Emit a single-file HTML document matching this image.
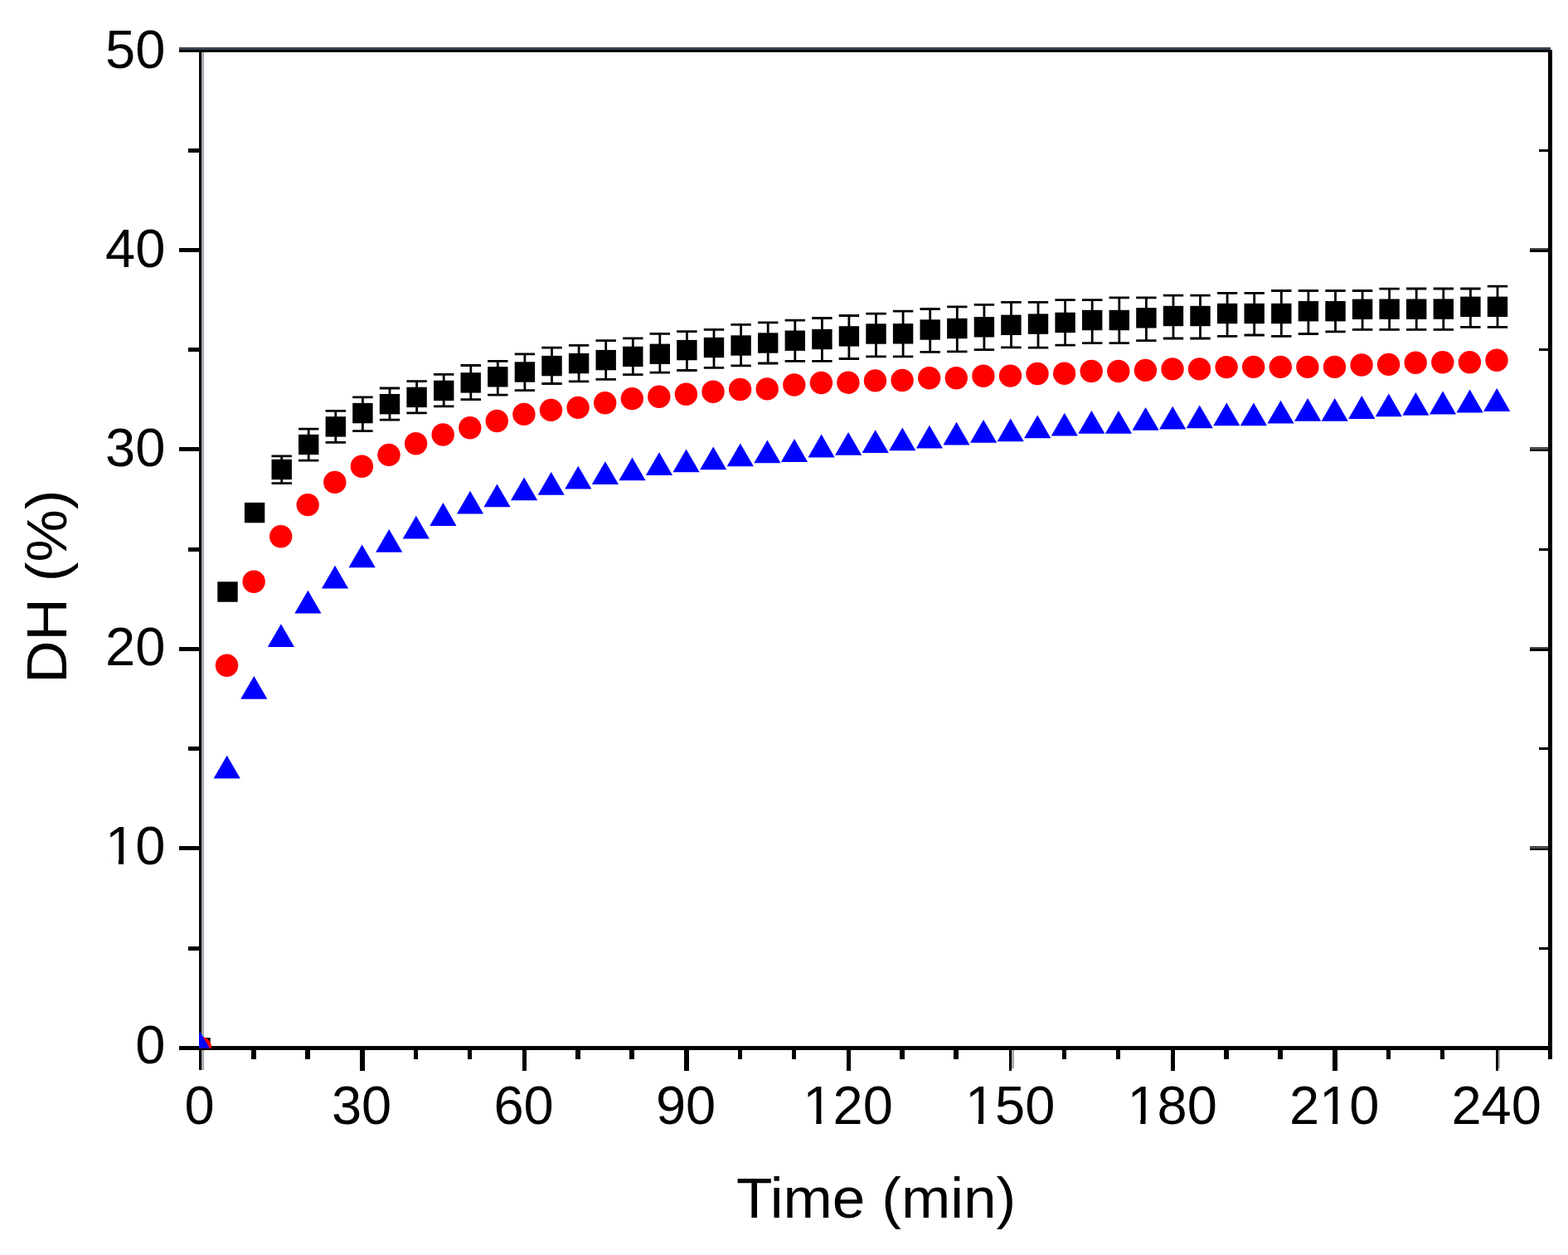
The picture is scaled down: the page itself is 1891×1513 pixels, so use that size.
<!DOCTYPE html>
<html><head><meta charset="utf-8"><title>DH vs Time</title>
<style>
html,body{margin:0;padding:0;background:#fff;}
body{width:1891px;height:1513px;overflow:hidden;}
svg{display:block;}
text{font-family:"Liberation Sans",Arial,sans-serif;fill:#000;}
</style></head>
<body>
<svg width="1891" height="1513" viewBox="0 0 1891 1513">
<defs><clipPath id="plot"><rect x="240" y="57" width="1630" height="1206.8"/></clipPath></defs>
<rect width="1891" height="1513" fill="#fff"/>
<g shape-rendering="crispEdges">
<rect x="240" y="57.2" width="3" height="1233" fill="#000"/>
<rect x="243" y="63" width="2.8" height="1227" fill="#a7abb1"/>
<rect x="215.6" y="57.2" width="1654" height="2.9" fill="#3a4350"/>
<rect x="215.6" y="60.1" width="1656.6" height="2.9" fill="#000"/>
<rect x="1867" y="60.1" width="5.1" height="1216.7" fill="#000"/>
<rect x="215.6" y="1260.6" width="1656.6" height="5.3" fill="#000"/>
<rect x="226.6" y="1140.7" width="13.4" height="5" fill="#000"/>
<rect x="1856" y="1141.8" width="11" height="2.8" fill="#000"/>
<rect x="215.5" y="1020.4" width="24.5" height="5" fill="#000"/>
<rect x="1845" y="1020.3" width="22" height="2.2" fill="#4a4a44"/>
<rect x="1845" y="1022.5" width="22" height="2.9" fill="#000"/>
<rect x="226.6" y="900.2" width="13.4" height="5" fill="#000"/>
<rect x="1856" y="901.3" width="11" height="2.8" fill="#000"/>
<rect x="215.5" y="779.9" width="24.5" height="5" fill="#000"/>
<rect x="1845" y="779.8" width="22" height="2.2" fill="#4a4a44"/>
<rect x="1845" y="782" width="22" height="2.9" fill="#000"/>
<rect x="226.6" y="659.7" width="13.4" height="5" fill="#000"/>
<rect x="1856" y="660.8" width="11" height="2.8" fill="#000"/>
<rect x="215.5" y="539.4" width="24.5" height="5" fill="#000"/>
<rect x="1845" y="539.3" width="22" height="2.2" fill="#4a4a44"/>
<rect x="1845" y="541.5" width="22" height="2.9" fill="#000"/>
<rect x="226.6" y="419.2" width="13.4" height="5" fill="#000"/>
<rect x="1856" y="420.3" width="11" height="2.8" fill="#000"/>
<rect x="215.5" y="298.9" width="24.5" height="5" fill="#000"/>
<rect x="1845" y="298.8" width="22" height="2.2" fill="#4a4a44"/>
<rect x="1845" y="301" width="22" height="2.9" fill="#000"/>
<rect x="226.6" y="178.7" width="13.4" height="5" fill="#000"/>
<rect x="1856" y="179.8" width="11" height="2.8" fill="#000"/>
<rect x="303.2" y="1265" width="5.3" height="11.7" fill="#000"/>
<rect x="368.3" y="1265" width="5.3" height="11.7" fill="#000"/>
<rect x="434.3" y="1265" width="5.3" height="25.6" fill="#000"/>
<rect x="498.7" y="1265" width="5.3" height="11.7" fill="#000"/>
<rect x="563.9" y="1265" width="5.3" height="11.7" fill="#000"/>
<rect x="629.8" y="1265" width="5.3" height="25.6" fill="#000"/>
<rect x="694.2" y="1265" width="5.3" height="11.7" fill="#000"/>
<rect x="759.4" y="1265" width="5.3" height="11.7" fill="#000"/>
<rect x="825.3" y="1265" width="5.3" height="25.6" fill="#000"/>
<rect x="889.7" y="1265" width="5.3" height="11.7" fill="#000"/>
<rect x="954.9" y="1265" width="5.3" height="11.7" fill="#000"/>
<rect x="1020.8" y="1265" width="5.3" height="25.6" fill="#000"/>
<rect x="1085.2" y="1265" width="5.3" height="11.7" fill="#000"/>
<rect x="1150.4" y="1265" width="5.3" height="11.7" fill="#000"/>
<rect x="1217.2" y="1265" width="2.9" height="25.6" fill="#000"/>
<rect x="1220" y="1266" width="2.7" height="21.6" fill="#a7abb1"/>
<rect x="1280.7" y="1265" width="5.3" height="11.7" fill="#000"/>
<rect x="1345.9" y="1265" width="5.3" height="11.7" fill="#000"/>
<rect x="1411.9" y="1265" width="5.3" height="25.6" fill="#000"/>
<rect x="1476.2" y="1265" width="5.3" height="11.7" fill="#000"/>
<rect x="1541.4" y="1265" width="5.3" height="11.7" fill="#000"/>
<rect x="1607.4" y="1265" width="5.3" height="25.6" fill="#000"/>
<rect x="1671.7" y="1265" width="5.3" height="11.7" fill="#000"/>
<rect x="1736.9" y="1265" width="5.3" height="11.7" fill="#000"/>
<rect x="1803.7" y="1265" width="2.9" height="25.6" fill="#000"/>
<rect x="1806.6" y="1266" width="2.7" height="21.6" fill="#a7abb1"/>
</g>
<g>
<g clip-path="url(#plot)">
<rect x="229.3" y="1251.1" width="24.4" height="24.4" fill="#000"/>
<circle cx="241.5" cy="1263.3" r="13.7" fill="#f00"/>
<path d="M241.5 1244.3L257.6 1272.1L225.4 1272.1Z" fill="#00f"/>
</g>
<rect x="262.3" y="701.3" width="24.4" height="24.4" fill="#000"/>
<rect x="294.9" y="605.9" width="24.4" height="24.4" fill="#000"/>
<path d="M339.7 549.9V582.6M327.5 549.9H351.9M327.5 582.6H351.9" stroke="#000" stroke-width="2.8" fill="none"/>
<rect x="327.5" y="553.8" width="24.4" height="24.4" fill="#000"/>
<path d="M372.2 517.1V555.2M360 517.1H384.4M360 555.2H384.4" stroke="#000" stroke-width="2.8" fill="none"/>
<rect x="360" y="523.8" width="24.4" height="24.4" fill="#000"/>
<path d="M404.8 495.3V533.4M392.6 495.3H417M392.6 533.4H417" stroke="#000" stroke-width="2.8" fill="none"/>
<rect x="392.6" y="502.2" width="24.4" height="24.4" fill="#000"/>
<path d="M437.4 478.9V519.7M425.2 478.9H449.6M425.2 519.7H449.6" stroke="#000" stroke-width="2.8" fill="none"/>
<rect x="425.2" y="485.9" width="24.4" height="24.4" fill="#000"/>
<path d="M470 468V506.2M457.8 468H482.2M457.8 506.2H482.2" stroke="#000" stroke-width="2.8" fill="none"/>
<rect x="457.8" y="475" width="24.4" height="24.4" fill="#000"/>
<path d="M502.6 459.7V497.9M490.4 459.7H514.8M490.4 497.9H514.8" stroke="#000" stroke-width="2.8" fill="none"/>
<rect x="490.4" y="466.7" width="24.4" height="24.4" fill="#000"/>
<path d="M535.2 451.3V489.8M523 451.3H547.4M523 489.8H547.4" stroke="#000" stroke-width="2.8" fill="none"/>
<rect x="523" y="458.7" width="24.4" height="24.4" fill="#000"/>
<path d="M567.8 440.5V481.7M555.5 440.5H580M555.5 481.7H580" stroke="#000" stroke-width="2.8" fill="none"/>
<rect x="555.5" y="449.2" width="24.4" height="24.4" fill="#000"/>
<path d="M600.3 435.3V476.2M588.1 435.3H612.5M588.1 476.2H612.5" stroke="#000" stroke-width="2.8" fill="none"/>
<rect x="588.1" y="442.1" width="24.4" height="24.4" fill="#000"/>
<path d="M632.9 426.9V470.6M620.7 426.9H645.1M620.7 470.6H645.1" stroke="#000" stroke-width="2.8" fill="none"/>
<rect x="620.7" y="436.3" width="24.4" height="24.4" fill="#000"/>
<path d="M665.5 419.2V462.5M653.3 419.2H677.7M653.3 462.5H677.7" stroke="#000" stroke-width="2.8" fill="none"/>
<rect x="653.3" y="428.9" width="24.4" height="24.4" fill="#000"/>
<path d="M698.1 416.3V459.9M685.9 416.3H710.3M685.9 459.9H710.3" stroke="#000" stroke-width="2.8" fill="none"/>
<rect x="685.9" y="425.9" width="24.4" height="24.4" fill="#000"/>
<path d="M730.7 410.6V457.3M718.5 410.6H742.9M718.5 457.3H742.9" stroke="#000" stroke-width="2.8" fill="none"/>
<rect x="718.5" y="421.9" width="24.4" height="24.4" fill="#000"/>
<path d="M763.3 407.8V451.7M751.1 407.8H775.5M751.1 451.7H775.5" stroke="#000" stroke-width="2.8" fill="none"/>
<rect x="751.1" y="417.7" width="24.4" height="24.4" fill="#000"/>
<path d="M795.8 402.4V449.1M783.6 402.4H808M783.6 449.1H808" stroke="#000" stroke-width="2.8" fill="none"/>
<rect x="783.6" y="414.6" width="24.4" height="24.4" fill="#000"/>
<path d="M828.4 399.7V446.5M816.2 399.7H840.6M816.2 446.5H840.6" stroke="#000" stroke-width="2.8" fill="none"/>
<rect x="816.2" y="409.9" width="24.4" height="24.4" fill="#000"/>
<path d="M861 397.3V443.3M848.8 397.3H873.2M848.8 443.3H873.2" stroke="#000" stroke-width="2.8" fill="none"/>
<rect x="848.8" y="406.8" width="24.4" height="24.4" fill="#000"/>
<path d="M893.6 391.4V440.9M881.4 391.4H905.8M881.4 440.9H905.8" stroke="#000" stroke-width="2.8" fill="none"/>
<rect x="881.4" y="404.3" width="24.4" height="24.4" fill="#000"/>
<path d="M926.2 388.9V438M914 388.9H938.4M914 438H938.4" stroke="#000" stroke-width="2.8" fill="none"/>
<rect x="914" y="401.3" width="24.4" height="24.4" fill="#000"/>
<path d="M958.8 386.2V435.3M946.6 386.2H971M946.6 435.3H971" stroke="#000" stroke-width="2.8" fill="none"/>
<rect x="946.6" y="398.5" width="24.4" height="24.4" fill="#000"/>
<path d="M991.4 383.5V435.3M979.2 383.5H1003.6M979.2 435.3H1003.6" stroke="#000" stroke-width="2.8" fill="none"/>
<rect x="979.2" y="396.8" width="24.4" height="24.4" fill="#000"/>
<path d="M1023.9 380.5V432.5M1011.7 380.5H1036.1M1011.7 432.5H1036.1" stroke="#000" stroke-width="2.8" fill="none"/>
<rect x="1011.7" y="393.2" width="24.4" height="24.4" fill="#000"/>
<path d="M1056.5 378.1V429.9M1044.3 378.1H1068.7M1044.3 429.9H1068.7" stroke="#000" stroke-width="2.8" fill="none"/>
<rect x="1044.3" y="390.3" width="24.4" height="24.4" fill="#000"/>
<path d="M1089.1 375.2V429.9M1076.9 375.2H1101.3M1076.9 429.9H1101.3" stroke="#000" stroke-width="2.8" fill="none"/>
<rect x="1076.9" y="390.1" width="24.4" height="24.4" fill="#000"/>
<path d="M1121.7 372.5V424.4M1109.5 372.5H1133.9M1109.5 424.4H1133.9" stroke="#000" stroke-width="2.8" fill="none"/>
<rect x="1109.5" y="385.3" width="24.4" height="24.4" fill="#000"/>
<path d="M1154.3 369.8V423.8M1142.1 369.8H1166.5M1142.1 423.8H1166.5" stroke="#000" stroke-width="2.8" fill="none"/>
<rect x="1142.1" y="383.8" width="24.4" height="24.4" fill="#000"/>
<path d="M1186.9 367.3V421.7M1174.7 367.3H1199.1M1174.7 421.7H1199.1" stroke="#000" stroke-width="2.8" fill="none"/>
<rect x="1174.7" y="382.1" width="24.4" height="24.4" fill="#000"/>
<path d="M1219.5 364.3V418.8M1207.2 364.3H1231.7M1207.2 418.8H1231.7" stroke="#000" stroke-width="2.8" fill="none"/>
<rect x="1207.2" y="379.6" width="24.4" height="24.4" fill="#000"/>
<path d="M1252 364.4V419.1M1239.8 364.4H1264.2M1239.8 419.1H1264.2" stroke="#000" stroke-width="2.8" fill="none"/>
<rect x="1239.8" y="378.4" width="24.4" height="24.4" fill="#000"/>
<path d="M1284.6 361.6V416.1M1272.4 361.6H1296.8M1272.4 416.1H1296.8" stroke="#000" stroke-width="2.8" fill="none"/>
<rect x="1272.4" y="376.7" width="24.4" height="24.4" fill="#000"/>
<path d="M1317.2 361.6V413.6M1305 361.6H1329.4M1305 413.6H1329.4" stroke="#000" stroke-width="2.8" fill="none"/>
<rect x="1305" y="373.8" width="24.4" height="24.4" fill="#000"/>
<path d="M1349.8 358.9V413.6M1337.6 358.9H1362M1337.6 413.6H1362" stroke="#000" stroke-width="2.8" fill="none"/>
<rect x="1337.6" y="373.8" width="24.4" height="24.4" fill="#000"/>
<path d="M1382.4 358.9V410.7M1370.2 358.9H1394.6M1370.2 410.7H1394.6" stroke="#000" stroke-width="2.8" fill="none"/>
<rect x="1370.2" y="371.1" width="24.4" height="24.4" fill="#000"/>
<path d="M1415 356.2V408M1402.8 356.2H1427.2M1402.8 408H1427.2" stroke="#000" stroke-width="2.8" fill="none"/>
<rect x="1402.8" y="368.8" width="24.4" height="24.4" fill="#000"/>
<path d="M1447.5 356.2V408M1435.3 356.2H1459.7M1435.3 408H1459.7" stroke="#000" stroke-width="2.8" fill="none"/>
<rect x="1435.3" y="368.8" width="24.4" height="24.4" fill="#000"/>
<path d="M1480.1 353.3V405.3M1467.9 353.3H1492.3M1467.9 405.3H1492.3" stroke="#000" stroke-width="2.8" fill="none"/>
<rect x="1467.9" y="365.8" width="24.4" height="24.4" fill="#000"/>
<path d="M1512.7 353.3V404M1500.5 353.3H1524.9M1500.5 404H1524.9" stroke="#000" stroke-width="2.8" fill="none"/>
<rect x="1500.5" y="365.8" width="24.4" height="24.4" fill="#000"/>
<path d="M1545.3 350.5V405.3M1533.1 350.5H1557.5M1533.1 405.3H1557.5" stroke="#000" stroke-width="2.8" fill="none"/>
<rect x="1533.1" y="365.8" width="24.4" height="24.4" fill="#000"/>
<path d="M1577.9 350.5V402.5M1565.7 350.5H1590.1M1565.7 402.5H1590.1" stroke="#000" stroke-width="2.8" fill="none"/>
<rect x="1565.7" y="363" width="24.4" height="24.4" fill="#000"/>
<path d="M1610.5 350.5V399.8M1598.3 350.5H1622.7M1598.3 399.8H1622.7" stroke="#000" stroke-width="2.8" fill="none"/>
<rect x="1598.3" y="363" width="24.4" height="24.4" fill="#000"/>
<path d="M1643.1 350.5V397.3M1630.9 350.5H1655.3M1630.9 397.3H1655.3" stroke="#000" stroke-width="2.8" fill="none"/>
<rect x="1630.9" y="360.6" width="24.4" height="24.4" fill="#000"/>
<path d="M1675.6 348.1V397.3M1663.4 348.1H1687.8M1663.4 397.3H1687.8" stroke="#000" stroke-width="2.8" fill="none"/>
<rect x="1663.4" y="360.5" width="24.4" height="24.4" fill="#000"/>
<path d="M1708.2 348V397.3M1696 348H1720.4M1696 397.3H1720.4" stroke="#000" stroke-width="2.8" fill="none"/>
<rect x="1696" y="360.5" width="24.4" height="24.4" fill="#000"/>
<path d="M1740.8 348V397.3M1728.6 348H1753M1728.6 397.3H1753" stroke="#000" stroke-width="2.8" fill="none"/>
<rect x="1728.6" y="360.4" width="24.4" height="24.4" fill="#000"/>
<path d="M1773.4 348V394.4M1761.2 348H1785.6M1761.2 394.4H1785.6" stroke="#000" stroke-width="2.8" fill="none"/>
<rect x="1761.2" y="357.6" width="24.4" height="24.4" fill="#000"/>
<path d="M1806 345.1V394.4M1793.8 345.1H1818.2M1793.8 394.4H1818.2" stroke="#000" stroke-width="2.8" fill="none"/>
<rect x="1793.8" y="357.6" width="24.4" height="24.4" fill="#000"/>
<circle cx="273.5" cy="802.3" r="13.7" fill="#f00"/>
<circle cx="306.1" cy="701.2" r="13.7" fill="#f00"/>
<circle cx="338.7" cy="646.7" r="13.7" fill="#f00"/>
<circle cx="371.2" cy="608.6" r="13.7" fill="#f00"/>
<circle cx="403.8" cy="581.4" r="13.7" fill="#f00"/>
<circle cx="436.4" cy="562.2" r="13.7" fill="#f00"/>
<circle cx="469" cy="548.4" r="13.7" fill="#f00"/>
<circle cx="501.6" cy="534.8" r="13.7" fill="#f00"/>
<circle cx="534.2" cy="524" r="13.7" fill="#f00"/>
<circle cx="566.8" cy="515.8" r="13.7" fill="#f00"/>
<circle cx="599.3" cy="507.5" r="13.7" fill="#f00"/>
<circle cx="631.9" cy="499.4" r="13.7" fill="#f00"/>
<circle cx="664.5" cy="494.4" r="13.7" fill="#f00"/>
<circle cx="697.1" cy="491.4" r="13.7" fill="#f00"/>
<circle cx="729.7" cy="485.7" r="13.7" fill="#f00"/>
<circle cx="762.3" cy="480.6" r="13.7" fill="#f00"/>
<circle cx="794.8" cy="478.2" r="13.7" fill="#f00"/>
<circle cx="827.4" cy="475.2" r="13.7" fill="#f00"/>
<circle cx="860" cy="472.2" r="13.7" fill="#f00"/>
<circle cx="892.6" cy="469.5" r="13.7" fill="#f00"/>
<circle cx="925.2" cy="468.9" r="13.7" fill="#f00"/>
<circle cx="957.8" cy="464" r="13.7" fill="#f00"/>
<circle cx="990.4" cy="461.5" r="13.7" fill="#f00"/>
<circle cx="1022.9" cy="461.2" r="13.7" fill="#f00"/>
<circle cx="1055.5" cy="458.9" r="13.7" fill="#f00"/>
<circle cx="1088.1" cy="458.5" r="13.7" fill="#f00"/>
<circle cx="1120.7" cy="455.8" r="13.7" fill="#f00"/>
<circle cx="1153.3" cy="455.8" r="13.7" fill="#f00"/>
<circle cx="1185.9" cy="453.3" r="13.7" fill="#f00"/>
<circle cx="1218.5" cy="453.1" r="13.7" fill="#f00"/>
<circle cx="1251" cy="450.5" r="13.7" fill="#f00"/>
<circle cx="1283.6" cy="450.3" r="13.7" fill="#f00"/>
<circle cx="1316.2" cy="447.5" r="13.7" fill="#f00"/>
<circle cx="1348.8" cy="447.5" r="13.7" fill="#f00"/>
<circle cx="1381.4" cy="446.4" r="13.7" fill="#f00"/>
<circle cx="1414" cy="444.9" r="13.7" fill="#f00"/>
<circle cx="1446.5" cy="444.9" r="13.7" fill="#f00"/>
<circle cx="1479.1" cy="442.6" r="13.7" fill="#f00"/>
<circle cx="1511.7" cy="442.4" r="13.7" fill="#f00"/>
<circle cx="1544.3" cy="442.4" r="13.7" fill="#f00"/>
<circle cx="1576.9" cy="442.4" r="13.7" fill="#f00"/>
<circle cx="1609.5" cy="442.4" r="13.7" fill="#f00"/>
<circle cx="1642.1" cy="440" r="13.7" fill="#f00"/>
<circle cx="1674.6" cy="439.4" r="13.7" fill="#f00"/>
<circle cx="1707.2" cy="437.2" r="13.7" fill="#f00"/>
<circle cx="1739.8" cy="436.7" r="13.7" fill="#f00"/>
<circle cx="1772.4" cy="436.7" r="13.7" fill="#f00"/>
<circle cx="1805" cy="434.3" r="13.7" fill="#f00"/>
<path d="M273.7 910.8L289.8 938.6L257.6 938.6Z" fill="#00f"/>
<path d="M306.3 815L322.4 842.8L290.2 842.8Z" fill="#00f"/>
<path d="M338.9 752.2L355 780L322.8 780Z" fill="#00f"/>
<path d="M371.4 711.7L387.5 739.5L355.3 739.5Z" fill="#00f"/>
<path d="M404 681.7L420.1 709.5L387.9 709.5Z" fill="#00f"/>
<path d="M436.6 656.4L452.7 684.2L420.5 684.2Z" fill="#00f"/>
<path d="M469.2 638L485.3 665.8L453.1 665.8Z" fill="#00f"/>
<path d="M501.8 621.7L517.9 649.5L485.7 649.5Z" fill="#00f"/>
<path d="M534.4 606.1L550.5 633.9L518.3 633.9Z" fill="#00f"/>
<path d="M567 591.8L583.1 619.6L550.9 619.6Z" fill="#00f"/>
<path d="M599.5 583.5L615.6 611.3L583.4 611.3Z" fill="#00f"/>
<path d="M632.1 575.5L648.2 603.3L616 603.3Z" fill="#00f"/>
<path d="M664.7 568.9L680.8 596.7L648.6 596.7Z" fill="#00f"/>
<path d="M697.3 561.8L713.4 589.6L681.2 589.6Z" fill="#00f"/>
<path d="M729.9 556.3L746 584.1L713.8 584.1Z" fill="#00f"/>
<path d="M762.5 551.4L778.6 579.2L746.4 579.2Z" fill="#00f"/>
<path d="M795 545.3L811.1 573.1L778.9 573.1Z" fill="#00f"/>
<path d="M827.6 541.4L843.7 569.2L811.5 569.2Z" fill="#00f"/>
<path d="M860.2 538.4L876.3 566.2L844.1 566.2Z" fill="#00f"/>
<path d="M892.8 534.5L908.9 562.3L876.7 562.3Z" fill="#00f"/>
<path d="M925.4 530.4L941.5 558.2L909.3 558.2Z" fill="#00f"/>
<path d="M958 529.1L974.1 556.9L941.9 556.9Z" fill="#00f"/>
<path d="M990.6 523.6L1006.7 551.4L974.5 551.4Z" fill="#00f"/>
<path d="M1023.1 520.9L1039.2 548.7L1007 548.7Z" fill="#00f"/>
<path d="M1055.7 518.2L1071.8 546L1039.6 546Z" fill="#00f"/>
<path d="M1088.3 515.4L1104.4 543.2L1072.2 543.2Z" fill="#00f"/>
<path d="M1120.9 512.7L1137 540.5L1104.8 540.5Z" fill="#00f"/>
<path d="M1153.5 508.7L1169.6 536.5L1137.4 536.5Z" fill="#00f"/>
<path d="M1186.1 505.9L1202.2 533.7L1170 533.7Z" fill="#00f"/>
<path d="M1218.7 504.4L1234.8 532.2L1202.6 532.2Z" fill="#00f"/>
<path d="M1251.2 500.4L1267.3 528.2L1235.1 528.2Z" fill="#00f"/>
<path d="M1283.8 497.8L1299.9 525.6L1267.7 525.6Z" fill="#00f"/>
<path d="M1316.4 495L1332.5 522.8L1300.3 522.8Z" fill="#00f"/>
<path d="M1349 495L1365.1 522.8L1332.9 522.8Z" fill="#00f"/>
<path d="M1381.6 490.9L1397.7 518.7L1365.5 518.7Z" fill="#00f"/>
<path d="M1414.2 489.7L1430.3 517.5L1398.1 517.5Z" fill="#00f"/>
<path d="M1446.7 488.4L1462.8 516.2L1430.6 516.2Z" fill="#00f"/>
<path d="M1479.3 485.4L1495.4 513.2L1463.2 513.2Z" fill="#00f"/>
<path d="M1511.9 485.4L1528 513.2L1495.8 513.2Z" fill="#00f"/>
<path d="M1544.5 482.7L1560.6 510.5L1528.4 510.5Z" fill="#00f"/>
<path d="M1577.1 480L1593.2 507.8L1561 507.8Z" fill="#00f"/>
<path d="M1609.7 480L1625.8 507.8L1593.6 507.8Z" fill="#00f"/>
<path d="M1642.3 477.1L1658.4 504.9L1626.2 504.9Z" fill="#00f"/>
<path d="M1674.8 474.4L1690.9 502.2L1658.7 502.2Z" fill="#00f"/>
<path d="M1707.4 472.9L1723.5 500.7L1691.3 500.7Z" fill="#00f"/>
<path d="M1740 471.6L1756.1 499.4L1723.9 499.4Z" fill="#00f"/>
<path d="M1772.6 469.6L1788.7 497.4L1756.5 497.4Z" fill="#00f"/>
<path d="M1805.2 468.1L1821.3 495.9L1789.1 495.9Z" fill="#00f"/>
</g>
<g font-size="65">
<text x="199.3" y="1281.9" text-anchor="end">0</text>
<text x="199.3" y="1041.8" text-anchor="end">10</text>
<text x="199.3" y="801.7" text-anchor="end">20</text>
<text x="199.3" y="561.7" text-anchor="end">30</text>
<text x="199.3" y="321.6" text-anchor="end">40</text>
<text x="199.3" y="81.5" text-anchor="end">50</text>
<text x="240.6" y="1355.3" text-anchor="middle">0</text>
<text x="436.1" y="1355.3" text-anchor="middle">30</text>
<text x="631.6" y="1355.3" text-anchor="middle">60</text>
<text x="827.1" y="1355.3" text-anchor="middle">90</text>
<text x="1022.6" y="1355.3" text-anchor="middle">120</text>
<text x="1218.2" y="1355.3" text-anchor="middle">150</text>
<text x="1413.7" y="1355.3" text-anchor="middle">180</text>
<text x="1609.2" y="1355.3" text-anchor="middle">210</text>
<text x="1804.7" y="1355.3" text-anchor="middle">240</text>
</g>
<g>
<rect x="131.3" y="1036.5" width="11.6" height="6" fill="#fff"/>
<rect x="149.1" y="1036.5" width="11.6" height="6" fill="#fff"/>
<rect x="972.7" y="1350" width="11.6" height="6" fill="#fff"/>
<rect x="990.5" y="1350" width="11.6" height="6" fill="#fff"/>
<rect x="1168.2" y="1350" width="11.6" height="6" fill="#fff"/>
<rect x="1186" y="1350" width="11.6" height="6" fill="#fff"/>
<rect x="1363.7" y="1350" width="11.6" height="6" fill="#fff"/>
<rect x="1381.5" y="1350" width="11.6" height="6" fill="#fff"/>
<rect x="1595.4" y="1350" width="11.6" height="6" fill="#fff"/>
<rect x="1613.2" y="1350" width="11.6" height="6" fill="#fff"/>
</g>
<text transform="translate(1056.6 1467.8) scale(1.017 0.975)" font-size="70" text-anchor="middle">Time (min)</text>
<text transform="translate(79.6 707.2) rotate(-90) scale(1.017 0.99)" font-size="70" text-anchor="middle">DH (%)</text>
</svg>
</body></html>
